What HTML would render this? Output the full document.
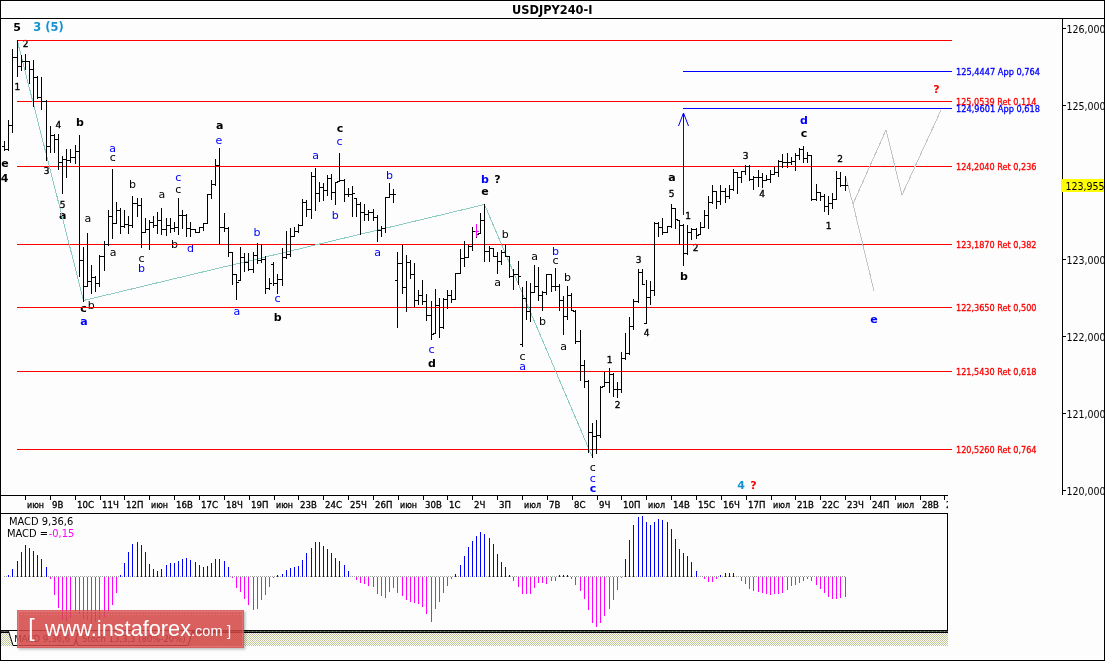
<!DOCTYPE html>
<html><head><meta charset="utf-8"><title>USDJPY240-I</title>
<style>html,body{margin:0;padding:0;background:#FCFDFC;}body{width:1105px;height:661px;overflow:hidden;position:relative;}</style>
</head><body>
<svg width="1105" height="661" viewBox="0 0 1105 661" style="position:absolute;left:0;top:0"><defs><pattern id="hatch" width="6" height="6" patternUnits="userSpaceOnUse"><rect width="6" height="6" fill="#FCFDFC"/><rect x="0" y="0" width="1" height="1" fill="#BFCC98"/><rect x="2" y="0" width="1" height="1" fill="#BFCC98"/><rect x="4" y="0" width="1" height="1" fill="#BFCC98"/><rect x="1" y="1" width="1" height="1" fill="#BFCC98"/><rect x="3" y="1" width="1" height="1" fill="#D4A098"/><rect x="5" y="1" width="1" height="1" fill="#BFCC98"/><rect x="0" y="2" width="1" height="1" fill="#BFCC98"/><rect x="2" y="2" width="1" height="1" fill="#BFCC98"/><rect x="4" y="2" width="1" height="1" fill="#BFCC98"/><rect x="1" y="3" width="1" height="1" fill="#BFCC98"/><rect x="3" y="3" width="1" height="1" fill="#BFCC98"/><rect x="5" y="3" width="1" height="1" fill="#BFCC98"/><rect x="0" y="4" width="1" height="1" fill="#D4A098"/><rect x="2" y="4" width="1" height="1" fill="#BFCC98"/><rect x="4" y="4" width="1" height="1" fill="#BFCC98"/><rect x="1" y="5" width="1" height="1" fill="#BFCC98"/><rect x="3" y="5" width="1" height="1" fill="#BFCC98"/><rect x="5" y="5" width="1" height="1" fill="#BFCC98"/></pattern><pattern id="wdots" width="3" height="1" patternUnits="userSpaceOnUse"><rect width="1" height="1" fill="#FFFFFF" fill-opacity="0.18"/></pattern><pattern id="gdots" width="4" height="1" patternUnits="userSpaceOnUse"><rect width="1" height="1" fill="#5E9A5A"/></pattern><filter id="sh" x="-5%" y="-20%" width="115%" height="150%"><feDropShadow dx="1.5" dy="1.5" stdDeviation="1" flood-color="#000" flood-opacity="0.3"/></filter></defs><rect width="1105" height="661" fill="#FCFDFC"/><text x="17" y="30.5" font-family="'DejaVu Sans',sans-serif" font-size="11" fill="#000" font-weight="bold" text-anchor="middle">5</text><text x="25.5" y="46.7" font-family="'DejaVu Sans',sans-serif" font-size="9" fill="#000" text-anchor="middle" stroke="#000" stroke-width="0.35">2</text><text x="17.3" y="90.2" font-family="'DejaVu Sans',sans-serif" font-size="9" fill="#000" text-anchor="middle" stroke="#000" stroke-width="0.35">1</text><text x="58.3" y="127.7" font-family="'DejaVu Sans',sans-serif" font-size="9" fill="#000" text-anchor="middle" stroke="#000" stroke-width="0.35">4</text><text x="80" y="126" font-family="'DejaVu Sans',sans-serif" font-size="11" fill="#000" font-weight="bold" text-anchor="middle">b</text><text x="112.7" y="151.5" font-family="'DejaVu Sans',sans-serif" font-size="11" fill="#0000FF" text-anchor="middle">a</text><text x="112.7" y="161.2" font-family="'DejaVu Sans',sans-serif" font-size="11" fill="#000" text-anchor="middle">c</text><text x="219.8" y="129.4" font-family="'DejaVu Sans',sans-serif" font-size="11" fill="#000" font-weight="bold" text-anchor="middle">a</text><text x="219" y="144.2" font-family="'DejaVu Sans',sans-serif" font-size="11" fill="#0000FF" text-anchor="middle">e</text><text x="5" y="166.5" font-family="'DejaVu Sans',sans-serif" font-size="11" fill="#000" font-weight="bold" text-anchor="middle">e</text><text x="4.5" y="181.5" font-family="'DejaVu Sans',sans-serif" font-size="11" fill="#000" font-weight="bold" text-anchor="middle">4</text><text x="46.5" y="174.4" font-family="'DejaVu Sans',sans-serif" font-size="9" fill="#000" text-anchor="middle" stroke="#000" stroke-width="0.35">3</text><text x="62.7" y="207.7" font-family="'DejaVu Sans',sans-serif" font-size="9" fill="#000" text-anchor="middle" stroke="#000" stroke-width="0.35">5</text><text x="62.7" y="218.5" font-family="'DejaVu Sans',sans-serif" font-size="11" fill="#000" font-weight="bold" text-anchor="middle">a</text><text x="87.8" y="221.5" font-family="'DejaVu Sans',sans-serif" font-size="11" fill="#000" text-anchor="middle">a</text><text x="83.5" y="311.7" font-family="'DejaVu Sans',sans-serif" font-size="11" fill="#000" font-weight="bold" text-anchor="middle">c</text><text x="91.2" y="309.3" font-family="'DejaVu Sans',sans-serif" font-size="11" fill="#000" text-anchor="middle">b</text><text x="83.9" y="325" font-family="'DejaVu Sans',sans-serif" font-size="11" fill="#0000FF" font-weight="bold" text-anchor="middle">a</text><text x="132.4" y="187.8" font-family="'DejaVu Sans',sans-serif" font-size="11" fill="#000" text-anchor="middle">b</text><text x="161.8" y="197.9" font-family="'DejaVu Sans',sans-serif" font-size="11" fill="#000" text-anchor="middle">a</text><text x="178.3" y="181.1" font-family="'DejaVu Sans',sans-serif" font-size="11" fill="#0000FF" text-anchor="middle">c</text><text x="178.3" y="193.2" font-family="'DejaVu Sans',sans-serif" font-size="11" fill="#000" text-anchor="middle">c</text><text x="174.6" y="247.5" font-family="'DejaVu Sans',sans-serif" font-size="11" fill="#000" text-anchor="middle">b</text><text x="190.6" y="251.7" font-family="'DejaVu Sans',sans-serif" font-size="11" fill="#0000FF" text-anchor="middle">d</text><text x="113" y="256.2" font-family="'DejaVu Sans',sans-serif" font-size="11" fill="#000" text-anchor="middle">a</text><text x="141.5" y="262.2" font-family="'DejaVu Sans',sans-serif" font-size="11" fill="#000" text-anchor="middle">c</text><text x="141.5" y="272.2" font-family="'DejaVu Sans',sans-serif" font-size="11" fill="#0000FF" text-anchor="middle">b</text><text x="236.8" y="314.5" font-family="'DejaVu Sans',sans-serif" font-size="11" fill="#0000FF" text-anchor="middle">a</text><text x="277.5" y="302.2" font-family="'DejaVu Sans',sans-serif" font-size="11" fill="#0000FF" text-anchor="middle">c</text><text x="277.8" y="320.5" font-family="'DejaVu Sans',sans-serif" font-size="11" fill="#000" font-weight="bold" text-anchor="middle">b</text><text x="257" y="236.4" font-family="'DejaVu Sans',sans-serif" font-size="11" fill="#0000FF" text-anchor="middle">b</text><text x="315.7" y="159.2" font-family="'DejaVu Sans',sans-serif" font-size="11" fill="#0000FF" text-anchor="middle">a</text><text x="340" y="131.8" font-family="'DejaVu Sans',sans-serif" font-size="11" fill="#000" font-weight="bold" text-anchor="middle">c</text><text x="339.6" y="145.2" font-family="'DejaVu Sans',sans-serif" font-size="11" fill="#0000FF" text-anchor="middle">c</text><text x="335.3" y="219.1" font-family="'DejaVu Sans',sans-serif" font-size="11" fill="#0000FF" text-anchor="middle">b</text><text x="389.6" y="179.2" font-family="'DejaVu Sans',sans-serif" font-size="11" fill="#0000FF" text-anchor="middle">b</text><text x="377.5" y="255.8" font-family="'DejaVu Sans',sans-serif" font-size="11" fill="#0000FF" text-anchor="middle">a</text><text x="431.5" y="352.7" font-family="'DejaVu Sans',sans-serif" font-size="11" fill="#0000FF" text-anchor="middle">c</text><text x="432" y="366.8" font-family="'DejaVu Sans',sans-serif" font-size="11" fill="#000" font-weight="bold" text-anchor="middle">d</text><text x="485" y="182.7" font-family="'DejaVu Sans',sans-serif" font-size="11" fill="#0000FF" font-weight="bold" text-anchor="middle">b</text><text x="497.5" y="183" font-family="'DejaVu Sans',sans-serif" font-size="11" fill="#000" font-weight="bold" text-anchor="middle">?</text><text x="485" y="194.9" font-family="'DejaVu Sans',sans-serif" font-size="11" fill="#000" font-weight="bold" text-anchor="middle">e</text><text x="505.3" y="238.0" font-family="'DejaVu Sans',sans-serif" font-size="11" fill="#000" text-anchor="middle">b</text><text x="497.5" y="285.6" font-family="'DejaVu Sans',sans-serif" font-size="11" fill="#000" text-anchor="middle">a</text><text x="534.5" y="260.0" font-family="'DejaVu Sans',sans-serif" font-size="11" fill="#000" text-anchor="middle">a</text><text x="555.5" y="254.7" font-family="'DejaVu Sans',sans-serif" font-size="11" fill="#0000FF" text-anchor="middle">b</text><text x="555.5" y="263.5" font-family="'DejaVu Sans',sans-serif" font-size="11" fill="#000" text-anchor="middle">c</text><text x="567.5" y="281.2" font-family="'DejaVu Sans',sans-serif" font-size="11" fill="#000" text-anchor="middle">b</text><text x="638.5" y="262.5" font-family="'DejaVu Sans',sans-serif" font-size="9" fill="#000" text-anchor="middle" stroke="#000" stroke-width="0.35">3</text><text x="522.5" y="359.8" font-family="'DejaVu Sans',sans-serif" font-size="11" fill="#000" text-anchor="middle">c</text><text x="522.5" y="369.7" font-family="'DejaVu Sans',sans-serif" font-size="11" fill="#0000FF" text-anchor="middle">a</text><text x="542.5" y="325.0" font-family="'DejaVu Sans',sans-serif" font-size="11" fill="#000" text-anchor="middle">b</text><text x="563.5" y="350.0" font-family="'DejaVu Sans',sans-serif" font-size="11" fill="#000" text-anchor="middle">a</text><text x="609.5" y="362.7" font-family="'DejaVu Sans',sans-serif" font-size="9" fill="#000" text-anchor="middle" stroke="#000" stroke-width="0.35">1</text><text x="617.5" y="407.7" font-family="'DejaVu Sans',sans-serif" font-size="9" fill="#000" text-anchor="middle" stroke="#000" stroke-width="0.35">2</text><text x="592.7" y="471.2" font-family="'DejaVu Sans',sans-serif" font-size="11" fill="#000" text-anchor="middle">c</text><text x="592.7" y="482.2" font-family="'DejaVu Sans',sans-serif" font-size="11" fill="#0000FF" text-anchor="middle">c</text><text x="593" y="492" font-family="'DejaVu Sans',sans-serif" font-size="11" fill="#0000FF" font-weight="bold" text-anchor="middle">c</text><text x="741" y="489" font-family="'DejaVu Sans',sans-serif" font-size="11" fill="#1592CF" font-weight="bold" text-anchor="middle">4</text><text x="753.5" y="489" font-family="'DejaVu Sans',sans-serif" font-size="11" fill="#FF0000" font-weight="bold" text-anchor="middle">?</text><text x="646.5" y="336.2" font-family="'DejaVu Sans',sans-serif" font-size="9" fill="#000" text-anchor="middle" stroke="#000" stroke-width="0.35">4</text><text x="684" y="279.5" font-family="'DejaVu Sans',sans-serif" font-size="11" fill="#000" font-weight="bold" text-anchor="middle">b</text><text x="695.5" y="250.7" font-family="'DejaVu Sans',sans-serif" font-size="9" fill="#000" text-anchor="middle" stroke="#000" stroke-width="0.35">2</text><text x="688" y="218.7" font-family="'DejaVu Sans',sans-serif" font-size="9" fill="#000" text-anchor="middle" stroke="#000" stroke-width="0.35">1</text><text x="671.5" y="196.5" font-family="'DejaVu Sans',sans-serif" font-size="9" fill="#000" text-anchor="middle" stroke="#000" stroke-width="0.35">5</text><text x="672" y="180.6" font-family="'DejaVu Sans',sans-serif" font-size="11" fill="#000" font-weight="bold" text-anchor="middle">a</text><text x="745.5" y="158.7" font-family="'DejaVu Sans',sans-serif" font-size="9" fill="#000" text-anchor="middle" stroke="#000" stroke-width="0.35">3</text><text x="762" y="196.5" font-family="'DejaVu Sans',sans-serif" font-size="9" fill="#000" text-anchor="middle" stroke="#000" stroke-width="0.35">4</text><text x="804" y="124" font-family="'DejaVu Sans',sans-serif" font-size="11" fill="#0000FF" font-weight="bold" text-anchor="middle">d</text><text x="804" y="137" font-family="'DejaVu Sans',sans-serif" font-size="11" fill="#000" font-weight="bold" text-anchor="middle">c</text><text x="840.2" y="161.7" font-family="'DejaVu Sans',sans-serif" font-size="9" fill="#000" text-anchor="middle" stroke="#000" stroke-width="0.35">2</text><text x="828.5" y="228.7" font-family="'DejaVu Sans',sans-serif" font-size="9" fill="#000" text-anchor="middle" stroke="#000" stroke-width="0.35">1</text><text x="874" y="323" font-family="'DejaVu Sans',sans-serif" font-size="11" fill="#0000FF" font-weight="bold" text-anchor="middle">e</text><text x="936.5" y="93" font-family="'DejaVu Sans',sans-serif" font-size="11" fill="#FF0000" font-weight="bold" text-anchor="middle">?</text><text x="33.3" y="30.7" font-family="'DejaVu Sans',sans-serif" font-size="12" fill="#1592CF" font-weight="bold" textLength="30.5" lengthAdjust="spacingAndGlyphs">3 (5)</text><g shape-rendering="crispEdges" stroke="#000" stroke-width="1" fill="none"><path d="M0 0.5H1105M0.5 0V661M1104.5 0V661M0 660.5H1105"/><path d="M0 18.5H1105"/><path d="M1062.5 18V495"/><path d="M0 495.5H948"/><path d="M0 513.5H948"/><path d="M947.5 513V631"/><path d="M0 630.5H948"/></g><path d="M1063 28.5H1066M1063 105.5H1066M1063 182.5H1066M1063 259.5H1066M1063 336.5H1066M1063 413.5H1066M1063 490.5H1066" stroke="#000" shape-rendering="crispEdges"/><path d="M25.5 496V500M50.5 496V500M75.5 496V500M100.5 496V500M124.5 496V500M149.5 496V500M174.5 496V500M199.5 496V500M224.5 496V500M249.5 496V500M274.5 496V500M298.5 496V500M323.5 496V500M348.5 496V500M373.5 496V500M398.5 496V500M423.5 496V500M447.5 496V500M472.5 496V500M497.5 496V500M522.5 496V500M547.5 496V500M572.5 496V500M597.5 496V500M621.5 496V500M646.5 496V500M671.5 496V500M696.5 496V500M721.5 496V500M746.5 496V500M771.5 496V500M795.5 496V500M820.5 496V500M845.5 496V500M870.5 496V500M895.5 496V500M920.5 496V500M944.5 496V500" stroke="#000" shape-rendering="crispEdges"/><g shape-rendering="crispEdges" stroke-width="1"><path d="M17 40.5H952" stroke="#FF0000"/><path d="M17 101.5H952" stroke="#FF0000"/><path d="M17 166.5H952" stroke="#FF0000"/><path d="M17 244.5H952" stroke="#FF0000"/><path d="M17 307.5H952" stroke="#FF0000"/><path d="M17 371.5H952" stroke="#FF0000"/><path d="M17 449.5H952" stroke="#FF0000"/><path d="M683 71.5H952" stroke="#0000FF"/><path d="M683 108.5H952" stroke="#0000FF"/></g><polyline points="17.5,41.5 83.5,300.5 484.5,204.5 592.5,457.5" fill="none" stroke="#8CCCC4" stroke-width="1" shape-rendering="crispEdges"/><polyline points="845.5,176 853,204 874,291" fill="none" stroke="#C4C4C4" stroke-width="1" shape-rendering="crispEdges"/><polyline points="853,204 886,130 902,195 941,110" fill="none" stroke="#C4C4C4" stroke-width="1" shape-rendering="crispEdges"/><path d="M683.5 215V113.5M678.5 126L683.5 113L688.5 126" fill="none" stroke="#0000FF" stroke-width="1"/><path d="M4.5 141V151M4.5 149.5H7.0M2.0 146.5H4.5M8.5 120V151M8.5 125.5H11.0M6.0 149.5H8.5M12.5 49V133M12.5 57.5H15.5M10.0 125.5H12.5M17.5 40V77M17.5 66.5H20.0M14.5 57.5H17.5M21.5 55V71M21.5 61.5H24.0M19.0 66.5H21.5M25.5 54V70M25.5 61.5H28.0M23.0 61.5H25.5M29.5 61V84M29.5 69.5H32.0M27.0 61.5H29.5M33.5 60V107M33.5 77.5H36.0M31.0 69.5H33.5M37.5 76V99M37.5 97.5H40.0M35.0 77.5H37.5M41.5 77V110M41.5 101.5H44.5M39.0 97.5H41.5M46.5 100V161M46.5 146.5H49.0M43.5 101.5H46.5M50.5 126V153M50.5 135.5H53.0M48.0 146.5H50.5M54.5 134V153M54.5 139.5H57.0M52.0 135.5H54.5M58.5 134V170M58.5 162.5H61.0M56.0 139.5H58.5M62.5 156V194M62.5 159.5H65.0M60.0 162.5H62.5M66.5 149V178M66.5 160.5H69.0M64.0 159.5H66.5M70.5 149V163M70.5 157.5H73.5M68.0 160.5H70.5M75.5 145V164M75.5 151.5H78.0M72.5 157.5H75.5M79.5 135V277M79.5 260.5H82.0M77.0 151.5H79.5M83.5 247V302M83.5 286.5H86.0M81.0 260.5H83.5M87.5 233V287M87.5 281.5H90.0M85.0 286.5H87.5M91.5 265V294M91.5 277.5H94.0M89.0 281.5H91.5M95.5 276V292M95.5 283.5H98.0M93.0 277.5H95.5M99.5 255V287M99.5 256.5H102.5M97.0 283.5H99.5M104.5 241V271M104.5 244.5H107.0M101.5 256.5H104.5M108.5 210V246M108.5 216.5H111.0M106.0 244.5H108.5M112.5 169V239M112.5 223.5H115.0M110.0 216.5H112.5M116.5 202V224M116.5 210.5H119.0M114.0 223.5H116.5M120.5 208V234M120.5 226.5H123.0M118.0 210.5H120.5M124.5 210V228M124.5 224.5H127.0M122.0 226.5H124.5M128.5 216V234M128.5 225.5H131.0M126.0 224.5H128.5M132.5 196V228M132.5 203.5H135.5M130.0 225.5H132.5M137.5 198V217M137.5 205.5H140.0M134.5 203.5H137.5M141.5 198V248M141.5 232.5H144.0M139.0 205.5H141.5M145.5 218V233M145.5 229.5H148.0M143.0 232.5H145.5M149.5 220V250M149.5 222.5H152.0M147.0 229.5H149.5M153.5 216V228M153.5 225.5H156.0M151.0 222.5H153.5M157.5 212V234M157.5 220.5H160.0M155.0 225.5H157.5M161.5 208V235M161.5 229.5H164.5M159.0 220.5H161.5M166.5 218V236M166.5 225.5H169.0M163.5 229.5H166.5M170.5 218V233M170.5 228.5H173.0M168.0 225.5H170.5M174.5 222V232M174.5 227.5H177.0M172.0 228.5H174.5M178.5 198V235M178.5 215.5H181.0M176.0 227.5H178.5M182.5 210V229M182.5 215.5H185.0M180.0 215.5H182.5M186.5 214V237M186.5 228.5H189.0M184.0 215.5H186.5M190.5 222V237M190.5 229.5H193.5M188.0 228.5H190.5M195.5 229V233M195.5 232.5H198.0M192.5 229.5H195.5M199.5 227V233M199.5 227.5H202.0M197.0 232.5H199.5M203.5 223V231M203.5 223.5H206.0M201.0 227.5H203.5M207.5 194V224M207.5 194.5H210.0M205.0 223.5H207.5M211.5 180V199M211.5 184.5H214.0M209.0 194.5H211.5M215.5 159V186M215.5 165.5H218.0M213.0 184.5H215.5M219.5 148V244M219.5 227.5H222.5M217.0 165.5H219.5M224.5 213V232M224.5 228.5H227.0M221.5 227.5H224.5M228.5 227V257M228.5 252.5H231.0M226.0 228.5H228.5M232.5 252V285M232.5 274.5H235.0M230.0 252.5H232.5M236.5 274V300M236.5 282.5H239.0M234.0 274.5H236.5M240.5 247V281M240.5 257.5H243.0M238.0 280.5H240.5M244.5 253V272M244.5 262.5H247.0M242.0 257.5H244.5M248.5 253V271M248.5 269.5H251.5M246.0 262.5H248.5M253.5 252V273M253.5 255.5H256.0M250.5 269.5H253.5M257.5 243V264M257.5 260.5H260.0M255.0 255.5H257.5M261.5 244V263M261.5 259.5H264.0M259.0 260.5H261.5M265.5 256V294M265.5 288.5H268.0M263.0 259.5H265.5M269.5 278V290M269.5 283.5H272.0M267.0 288.5H269.5M273.5 262V286M273.5 283.5H276.0M271.0 264.5H273.5M277.5 274V294M277.5 279.5H280.5M275.0 283.5H277.5M282.5 248V286M282.5 257.5H285.0M279.5 279.5H282.5M286.5 231V259M286.5 254.5H289.0M284.0 257.5H286.5M290.5 228V257M290.5 236.5H293.0M288.0 254.5H290.5M294.5 227V237M294.5 231.5H297.0M292.0 236.5H294.5M298.5 224V233M298.5 225.5H301.0M296.0 231.5H298.5M302.5 199V226M302.5 202.5H305.0M300.0 225.5H302.5M306.5 200V217M306.5 209.5H309.5M304.0 202.5H306.5M311.5 172V219M311.5 176.5H314.0M308.5 209.5H311.5M315.5 168V211M315.5 193.5H318.0M313.0 176.5H315.5M319.5 182V202M319.5 187.5H322.0M317.0 193.5H319.5M323.5 183V201M323.5 190.5H326.0M321.0 187.5H323.5M327.5 175V196M327.5 178.5H330.0M325.0 190.5H327.5M331.5 174V200M331.5 192.5H334.0M329.0 178.5H331.5M335.5 182V205M335.5 182.5H338.0M333.0 192.5H335.5M339.5 153V182M339.5 180.5H342.5M337.0 181.5H339.5M344.5 179V202M344.5 194.5H347.0M341.5 180.5H344.5M348.5 188V197M348.5 194.5H351.0M346.0 194.5H348.5M352.5 186V217M352.5 193.5H355.0M350.0 194.5H352.5M356.5 198V217M356.5 204.5H359.0M354.0 198.5H356.5M360.5 202V235M360.5 212.5H363.0M358.0 204.5H360.5M364.5 204V221M364.5 214.5H367.0M362.0 212.5H364.5M368.5 210V221M368.5 212.5H371.5M366.0 214.5H368.5M373.5 209V221M373.5 217.5H376.0M370.5 212.5H373.5M377.5 215V242M377.5 230.5H380.0M375.0 217.5H377.5M381.5 226V237M381.5 228.5H384.0M379.0 230.5H381.5M385.5 197V233M385.5 197.5H388.0M383.0 228.5H385.5M389.5 183V198M389.5 194.5H392.0M387.0 197.5H389.5M393.5 189V203M393.5 194.5H396.0M391.0 194.5H393.5M397.5 252V328M397.5 263.5H400.5M395.0 280.5H397.5M402.5 245V294M402.5 287.5H405.0M399.5 263.5H402.5M406.5 255V312M406.5 262.5H409.0M404.0 287.5H406.5M410.5 260V279M410.5 274.5H413.0M408.0 262.5H410.5M414.5 263V307M414.5 300.5H417.0M412.0 274.5H414.5M418.5 290V305M418.5 295.5H421.0M416.0 300.5H418.5M422.5 280V305M422.5 301.5H425.0M420.0 295.5H422.5M426.5 294V321M426.5 315.5H429.5M424.0 301.5H426.5M431.5 301V340M431.5 334.5H434.0M428.5 315.5H431.5M435.5 289V334M435.5 305.5H438.0M433.0 333.5H435.5M439.5 298V338M439.5 327.5H442.0M437.0 305.5H439.5M443.5 298V329M443.5 299.5H446.0M441.0 327.5H443.5M447.5 290V309M447.5 295.5H450.0M445.0 299.5H447.5M451.5 290V303M451.5 299.5H454.0M449.0 295.5H451.5M455.5 273V300M455.5 273.5H458.5M453.0 299.5H455.5M460.5 249V274M460.5 258.5H463.0M457.5 273.5H460.5M464.5 241V267M464.5 257.5H467.0M462.0 258.5H464.5M468.5 245V258M468.5 246.5H471.0M466.0 257.5H468.5M472.5 227V251M472.5 231.5H475.0M470.0 246.5H472.5M476.5 224V238M476.5 234.5H479.0M474.0 231.5H476.5M480.5 213V234M480.5 220.5H483.0M478.0 233.5H480.5M484.5 204V262M484.5 251.5H487.5M482.0 220.5H484.5M489.5 246V262M489.5 248.5H492.0M486.5 251.5H489.5M493.5 248V257M493.5 256.5H496.0M491.0 248.5H493.5M497.5 252V274M497.5 261.5H500.0M495.0 256.5H497.5M501.5 250V265M501.5 252.5H504.0M499.0 261.5H501.5M505.5 245V257M505.5 256.5H508.0M503.0 252.5H505.5M509.5 256V278M509.5 276.5H512.0M507.0 256.5H509.5M513.5 269V290M513.5 274.5H516.5M511.0 276.5H513.5M518.5 261V285M518.5 276.5H521.0M515.5 274.5H518.5M522.5 287V347M522.5 298.5H525.0M520.0 344.5H522.5M526.5 281V320M526.5 311.5H529.0M524.0 298.5H526.5M530.5 283V322M530.5 292.5H533.0M528.0 311.5H530.5M534.5 265V293M534.5 286.5H537.0M532.0 292.5H534.5M538.5 267V301M538.5 295.5H541.0M536.0 286.5H538.5M542.5 291V311M542.5 292.5H545.0M540.0 295.5H542.5M546.5 274V295M546.5 274.5H549.5M544.0 292.5H546.5M551.5 274V292M551.5 286.5H554.0M548.5 274.5H551.5M555.5 268V291M555.5 286.5H558.0M553.0 286.5H555.5M559.5 284V311M559.5 300.5H562.0M557.0 286.5H559.5M563.5 296V335M563.5 316.5H566.0M561.0 300.5H563.5M567.5 286V320M567.5 295.5H570.0M565.0 316.5H567.5M571.5 293V311M571.5 310.5H574.0M569.0 295.5H571.5M575.5 310V344M575.5 341.5H578.5M573.0 311.5H575.5M580.5 330V381M580.5 365.5H583.0M577.5 341.5H580.5M584.5 360V388M584.5 381.5H587.0M582.0 365.5H584.5M588.5 380V453M588.5 432.5H591.0M586.0 381.5H588.5M592.5 423V458M592.5 436.5H595.0M590.0 432.5H592.5M596.5 420V454M596.5 435.5H599.0M594.0 436.5H596.5M600.5 386V438M600.5 387.5H603.0M598.0 435.5H600.5M604.5 372V387M604.5 382.5H607.5M602.0 386.5H604.5M609.5 368V393M609.5 374.5H612.0M606.5 382.5H609.5M613.5 373V397M613.5 389.5H616.0M611.0 374.5H613.5M617.5 382V398M617.5 389.5H620.0M615.0 389.5H617.5M621.5 352V393M621.5 358.5H624.0M619.0 389.5H621.5M625.5 333V360M625.5 353.5H628.0M623.0 358.5H625.5M629.5 317V355M629.5 326.5H632.0M627.0 353.5H629.5M633.5 299V330M633.5 301.5H636.5M631.0 326.5H633.5M638.5 269V303M638.5 272.5H641.0M635.5 301.5H638.5M642.5 269V285M642.5 284.5H645.0M640.0 272.5H642.5M646.5 280V324M646.5 297.5H649.0M644.0 323.5H646.5M650.5 281V305M650.5 290.5H653.0M648.0 297.5H650.5M654.5 222V296M654.5 223.5H657.0M652.0 290.5H654.5M658.5 222V237M658.5 227.5H661.0M656.0 223.5H658.5M662.5 218V235M662.5 232.5H665.5M660.0 227.5H662.5M667.5 226V233M667.5 226.5H670.0M664.5 232.5H667.5M671.5 204V228M671.5 208.5H674.0M669.0 226.5H671.5M675.5 208V229M675.5 219.5H678.0M673.0 208.5H675.5M679.5 220V245M679.5 225.5H682.0M677.0 220.5H679.5M683.5 224V266M683.5 253.5H686.0M681.0 225.5H683.5M687.5 225V255M687.5 232.5H690.0M685.0 253.5H687.5M691.5 228V240M691.5 229.5H694.5M689.0 232.5H691.5M696.5 228V239M696.5 235.5H699.0M693.5 229.5H696.5M700.5 222V235M700.5 227.5H703.0M698.0 234.5H700.5M704.5 210V228M704.5 215.5H707.0M702.0 227.5H704.5M708.5 196V229M708.5 202.5H711.0M706.0 215.5H708.5M712.5 185V204M712.5 191.5H715.0M710.0 202.5H712.5M716.5 191V209M716.5 201.5H719.0M714.0 191.5H716.5M720.5 185V205M720.5 191.5H723.5M718.0 201.5H720.5M725.5 188V203M725.5 196.5H728.0M722.5 191.5H725.5M729.5 185V199M729.5 189.5H732.0M727.0 196.5H729.5M733.5 169V191M733.5 172.5H736.0M731.0 189.5H733.5M737.5 172V194M737.5 177.5H740.0M735.0 172.5H737.5M741.5 171V183M741.5 171.5H744.0M739.0 177.5H741.5M745.5 165V175M745.5 166.5H748.0M743.0 171.5H745.5M749.5 165V181M749.5 179.5H752.0M747.0 166.5H749.5M753.5 176V190M753.5 177.5H756.5M751.0 179.5H753.5M758.5 170V187M758.5 177.5H761.0M755.5 177.5H758.5M762.5 173V188M762.5 180.5H765.0M760.0 177.5H762.5M766.5 175V181M766.5 179.5H769.0M764.0 180.5H766.5M770.5 170V183M770.5 174.5H773.0M768.0 179.5H770.5M774.5 167V175M774.5 172.5H777.0M772.0 174.5H774.5M778.5 160V177M778.5 161.5H781.0M776.0 172.5H778.5M782.5 154V168M782.5 162.5H785.5M780.0 161.5H782.5M787.5 153V168M787.5 162.5H790.0M784.5 162.5H787.5M791.5 157V165M791.5 161.5H794.0M789.0 162.5H791.5M795.5 153V171M795.5 155.5H798.0M793.0 161.5H795.5M799.5 148V160M799.5 149.5H802.0M797.0 155.5H799.5M803.5 146V163M803.5 158.5H806.0M801.0 149.5H803.5M807.5 152V163M807.5 155.5H810.0M805.0 158.5H807.5M811.5 155V201M811.5 199.5H814.5M809.0 155.5H811.5M816.5 184V201M816.5 192.5H819.0M813.5 199.5H816.5M820.5 192V201M820.5 196.5H823.0M818.0 192.5H820.5M824.5 194V212M824.5 206.5H827.0M822.0 196.5H824.5M828.5 196V215M828.5 203.5H831.0M826.0 206.5H828.5M832.5 193V209M832.5 199.5H835.0M830.0 203.5H832.5M836.5 171V200M836.5 178.5H839.0M834.0 199.5H836.5M840.5 172V187M840.5 185.5H843.5M838.0 178.5H840.5M845.5 176V191M845.5 185.5H848.0M842.5 185.5H845.5" stroke="#000" stroke-width="1" fill="none" shape-rendering="crispEdges"/><path d="M476.5 224V237M474.5 231.5H479.0" stroke="#FF00FF" stroke-width="1" shape-rendering="crispEdges"/><path d="M4 576.5H846" stroke="#A0A0A0" stroke-dasharray="1,1" shape-rendering="crispEdges"/><path d="M8.5 575V577M12.5 569V577M17.5 561V577M21.5 552V577M25.5 545V577M29.5 548V577M33.5 551V577M37.5 555V577M41.5 559V577M46.5 567V577M120.5 575V577M124.5 563V577M128.5 552V577M132.5 544V577M137.5 542V577M141.5 545V577M145.5 552V577M149.5 564V577M153.5 569V577M157.5 571V577M161.5 569V577M166.5 565V577M170.5 563V577M174.5 563V577M178.5 561V577M182.5 559V577M186.5 558V577M190.5 560V577M195.5 562V577M199.5 565V577M203.5 567V577M207.5 566V577M211.5 563V577M215.5 559V577M219.5 559V577M224.5 561V577M228.5 567V577M277.5 575V577M282.5 574V577M286.5 570V577M290.5 568V577M294.5 567V577M298.5 566V577M302.5 560V577M306.5 553V577M311.5 548V577M315.5 542V577M319.5 542V577M323.5 546V577M327.5 549V577M331.5 553V577M335.5 558V577M339.5 561V577M344.5 565V577M348.5 571V577M455.5 574V577M460.5 565V577M464.5 556V577M468.5 547V577M472.5 541V577M476.5 536V577M480.5 532V577M484.5 534V577M489.5 538V577M493.5 544V577M497.5 554V577M501.5 562V577M505.5 567V577M509.5 575V577M559.5 575V577M563.5 575V577M567.5 575V577M625.5 559V577M629.5 540V577M633.5 525V577M638.5 517V577M642.5 516V577M646.5 522V577M650.5 525V577M654.5 522V577M658.5 519V577M662.5 520V577M667.5 522V577M671.5 529V577M675.5 539V577M679.5 549V577M683.5 553V577M687.5 556V577M691.5 562V577M696.5 571V577M720.5 575V577M725.5 573V577M729.5 573V577M733.5 573V577" stroke="#0000FF" stroke-width="1" shape-rendering="crispEdges"/><path d="M50.5 577V579M54.5 577V595M58.5 577V608M62.5 577V620M66.5 577V621M70.5 577V618M75.5 577V612M79.5 577V614M83.5 577V619M87.5 577V620M91.5 577V625M95.5 577V622M99.5 577V619M104.5 577V617M108.5 577V612M112.5 577V605M116.5 577V593M232.5 577V578M236.5 577V588M240.5 577V592M244.5 577V599M248.5 577V605M253.5 577V610M257.5 577V609M261.5 577V600M265.5 577V595M269.5 577V587M273.5 577V578M356.5 577V580M360.5 577V583M364.5 577V584M368.5 577V586M373.5 577V587M377.5 577V594M381.5 577V596M385.5 577V598M389.5 577V592M393.5 577V588M397.5 577V593M402.5 577V596M406.5 577V600M410.5 577V602M414.5 577V603M418.5 577V604M422.5 577V607M426.5 577V614M431.5 577V622M435.5 577V609M439.5 577V602M443.5 577V593M447.5 577V586M451.5 577V579M513.5 577V581M518.5 577V587M522.5 577V594M526.5 577V594M530.5 577V594M534.5 577V588M538.5 577V583M542.5 577V583M546.5 577V584M551.5 577V581M555.5 577V581M571.5 577V579M575.5 577V585M580.5 577V591M584.5 577V599M588.5 577V610M592.5 577V623M596.5 577V627M600.5 577V623M604.5 577V616M609.5 577V609M613.5 577V600M617.5 577V590M621.5 577V578M704.5 577V579M708.5 577V582M712.5 577V582M716.5 577V579M741.5 577V581M745.5 577V584M749.5 577V589M753.5 577V591M758.5 577V592M762.5 577V593M766.5 577V594M770.5 577V595M774.5 577V594M778.5 577V594M782.5 577V593M787.5 577V590M791.5 577V586M795.5 577V585M799.5 577V583M803.5 577V581M807.5 577V579M811.5 577V581M816.5 577V585M820.5 577V589M824.5 577V593M828.5 577V597M832.5 577V599M836.5 577V599M840.5 577V598M845.5 577V597" stroke="#FF00FF" stroke-width="1" shape-rendering="crispEdges"/><text x="512" y="13.9" font-family="'DejaVu Sans',sans-serif" font-size="12" fill="#000" font-weight="bold" textLength="80.5" lengthAdjust="spacingAndGlyphs">USDJPY240-I</text><text x="1066.5" y="32.5" font-family="'DejaVu Sans Condensed','DejaVu Sans',sans-serif" font-size="10.5" fill="#000">126,000</text><text x="1066.5" y="109.5" font-family="'DejaVu Sans Condensed','DejaVu Sans',sans-serif" font-size="10.5" fill="#000">125,000</text><text x="1066.5" y="263.5" font-family="'DejaVu Sans Condensed','DejaVu Sans',sans-serif" font-size="10.5" fill="#000">123,000</text><text x="1066.5" y="340.5" font-family="'DejaVu Sans Condensed','DejaVu Sans',sans-serif" font-size="10.5" fill="#000">122,000</text><text x="1066.5" y="417.5" font-family="'DejaVu Sans Condensed','DejaVu Sans',sans-serif" font-size="10.5" fill="#000">121,000</text><text x="1066.5" y="494.5" font-family="'DejaVu Sans Condensed','DejaVu Sans',sans-serif" font-size="10.5" fill="#000">120,000</text><rect x="1061" y="179" width="43" height="13" fill="#FFFF00"/><text x="1065.5" y="189.5" font-family="'DejaVu Sans Condensed','DejaVu Sans',sans-serif" font-size="10.5" fill="#000">123,955</text><text x="956" y="75" font-family="'DejaVu Sans',sans-serif" font-size="9.2" fill="#0000FF" textLength="84" lengthAdjust="spacingAndGlyphs" stroke="#0000FF" stroke-width="0.3">125,4447 App 0,764</text><text x="956" y="105" font-family="'DejaVu Sans',sans-serif" font-size="9.2" fill="#FF0000" textLength="80.5" lengthAdjust="spacingAndGlyphs" stroke="#FF0000" stroke-width="0.3">125,0539 Ret 0,114</text><text x="956" y="112" font-family="'DejaVu Sans',sans-serif" font-size="9.2" fill="#0000FF" textLength="84" lengthAdjust="spacingAndGlyphs" stroke="#0000FF" stroke-width="0.3">124,9601 App 0,618</text><text x="956" y="170" font-family="'DejaVu Sans',sans-serif" font-size="9.2" fill="#FF0000" textLength="80.5" lengthAdjust="spacingAndGlyphs" stroke="#FF0000" stroke-width="0.3">124,2040 Ret 0,236</text><text x="956" y="248" font-family="'DejaVu Sans',sans-serif" font-size="9.2" fill="#FF0000" textLength="80.5" lengthAdjust="spacingAndGlyphs" stroke="#FF0000" stroke-width="0.3">123,1870 Ret 0,382</text><text x="956" y="311" font-family="'DejaVu Sans',sans-serif" font-size="9.2" fill="#FF0000" textLength="80.5" lengthAdjust="spacingAndGlyphs" stroke="#FF0000" stroke-width="0.3">122,3650 Ret 0,500</text><text x="956" y="375" font-family="'DejaVu Sans',sans-serif" font-size="9.2" fill="#FF0000" textLength="80.5" lengthAdjust="spacingAndGlyphs" stroke="#FF0000" stroke-width="0.3">121,5430 Ret 0,618</text><text x="956" y="453" font-family="'DejaVu Sans',sans-serif" font-size="9.2" fill="#FF0000" textLength="80.5" lengthAdjust="spacingAndGlyphs" stroke="#FF0000" stroke-width="0.3">120,5260 Ret 0,764</text><svg x="0" y="496" width="948" height="17" overflow="hidden"><text x="27" y="11.8" font-family="'DejaVu Sans',sans-serif" font-size="8.6" fill="#000" textLength="17" lengthAdjust="spacingAndGlyphs" stroke="#000" stroke-width="0.3">июн</text><text x="52" y="11.8" font-family="'DejaVu Sans',sans-serif" font-size="8.6" fill="#000" stroke="#000" stroke-width="0.3">9В</text><text x="77" y="11.8" font-family="'DejaVu Sans',sans-serif" font-size="8.6" fill="#000" stroke="#000" stroke-width="0.3">10С</text><text x="102" y="11.8" font-family="'DejaVu Sans',sans-serif" font-size="8.6" fill="#000" stroke="#000" stroke-width="0.3">11Ч</text><text x="126" y="11.8" font-family="'DejaVu Sans',sans-serif" font-size="8.6" fill="#000" stroke="#000" stroke-width="0.3">12П</text><text x="151" y="11.8" font-family="'DejaVu Sans',sans-serif" font-size="8.6" fill="#000" textLength="17" lengthAdjust="spacingAndGlyphs" stroke="#000" stroke-width="0.3">июн</text><text x="176" y="11.8" font-family="'DejaVu Sans',sans-serif" font-size="8.6" fill="#000" stroke="#000" stroke-width="0.3">16В</text><text x="201" y="11.8" font-family="'DejaVu Sans',sans-serif" font-size="8.6" fill="#000" stroke="#000" stroke-width="0.3">17С</text><text x="226" y="11.8" font-family="'DejaVu Sans',sans-serif" font-size="8.6" fill="#000" stroke="#000" stroke-width="0.3">18Ч</text><text x="251" y="11.8" font-family="'DejaVu Sans',sans-serif" font-size="8.6" fill="#000" stroke="#000" stroke-width="0.3">19П</text><text x="276" y="11.8" font-family="'DejaVu Sans',sans-serif" font-size="8.6" fill="#000" textLength="17" lengthAdjust="spacingAndGlyphs" stroke="#000" stroke-width="0.3">июн</text><text x="300" y="11.8" font-family="'DejaVu Sans',sans-serif" font-size="8.6" fill="#000" stroke="#000" stroke-width="0.3">23В</text><text x="325" y="11.8" font-family="'DejaVu Sans',sans-serif" font-size="8.6" fill="#000" stroke="#000" stroke-width="0.3">24С</text><text x="350" y="11.8" font-family="'DejaVu Sans',sans-serif" font-size="8.6" fill="#000" stroke="#000" stroke-width="0.3">25Ч</text><text x="375" y="11.8" font-family="'DejaVu Sans',sans-serif" font-size="8.6" fill="#000" stroke="#000" stroke-width="0.3">26П</text><text x="400" y="11.8" font-family="'DejaVu Sans',sans-serif" font-size="8.6" fill="#000" textLength="17" lengthAdjust="spacingAndGlyphs" stroke="#000" stroke-width="0.3">июн</text><text x="425" y="11.8" font-family="'DejaVu Sans',sans-serif" font-size="8.6" fill="#000" stroke="#000" stroke-width="0.3">30В</text><text x="449" y="11.8" font-family="'DejaVu Sans',sans-serif" font-size="8.6" fill="#000" stroke="#000" stroke-width="0.3">1С</text><text x="474" y="11.8" font-family="'DejaVu Sans',sans-serif" font-size="8.6" fill="#000" stroke="#000" stroke-width="0.3">2Ч</text><text x="499" y="11.8" font-family="'DejaVu Sans',sans-serif" font-size="8.6" fill="#000" stroke="#000" stroke-width="0.3">3П</text><text x="524" y="11.8" font-family="'DejaVu Sans',sans-serif" font-size="8.6" fill="#000" textLength="17" lengthAdjust="spacingAndGlyphs" stroke="#000" stroke-width="0.3">июл</text><text x="549" y="11.8" font-family="'DejaVu Sans',sans-serif" font-size="8.6" fill="#000" stroke="#000" stroke-width="0.3">7В</text><text x="574" y="11.8" font-family="'DejaVu Sans',sans-serif" font-size="8.6" fill="#000" stroke="#000" stroke-width="0.3">8С</text><text x="599" y="11.8" font-family="'DejaVu Sans',sans-serif" font-size="8.6" fill="#000" stroke="#000" stroke-width="0.3">9Ч</text><text x="623" y="11.8" font-family="'DejaVu Sans',sans-serif" font-size="8.6" fill="#000" stroke="#000" stroke-width="0.3">10П</text><text x="648" y="11.8" font-family="'DejaVu Sans',sans-serif" font-size="8.6" fill="#000" textLength="17" lengthAdjust="spacingAndGlyphs" stroke="#000" stroke-width="0.3">июл</text><text x="673" y="11.8" font-family="'DejaVu Sans',sans-serif" font-size="8.6" fill="#000" stroke="#000" stroke-width="0.3">14В</text><text x="698" y="11.8" font-family="'DejaVu Sans',sans-serif" font-size="8.6" fill="#000" stroke="#000" stroke-width="0.3">15С</text><text x="723" y="11.8" font-family="'DejaVu Sans',sans-serif" font-size="8.6" fill="#000" stroke="#000" stroke-width="0.3">16Ч</text><text x="748" y="11.8" font-family="'DejaVu Sans',sans-serif" font-size="8.6" fill="#000" stroke="#000" stroke-width="0.3">17П</text><text x="773" y="11.8" font-family="'DejaVu Sans',sans-serif" font-size="8.6" fill="#000" textLength="17" lengthAdjust="spacingAndGlyphs" stroke="#000" stroke-width="0.3">июл</text><text x="797" y="11.8" font-family="'DejaVu Sans',sans-serif" font-size="8.6" fill="#000" stroke="#000" stroke-width="0.3">21В</text><text x="822" y="11.8" font-family="'DejaVu Sans',sans-serif" font-size="8.6" fill="#000" stroke="#000" stroke-width="0.3">22С</text><text x="847" y="11.8" font-family="'DejaVu Sans',sans-serif" font-size="8.6" fill="#000" stroke="#000" stroke-width="0.3">23Ч</text><text x="872" y="11.8" font-family="'DejaVu Sans',sans-serif" font-size="8.6" fill="#000" stroke="#000" stroke-width="0.3">24П</text><text x="897" y="11.8" font-family="'DejaVu Sans',sans-serif" font-size="8.6" fill="#000" textLength="17" lengthAdjust="spacingAndGlyphs" stroke="#000" stroke-width="0.3">июл</text><text x="922" y="11.8" font-family="'DejaVu Sans',sans-serif" font-size="8.6" fill="#000" stroke="#000" stroke-width="0.3">28В</text><text x="946" y="11.8" font-family="'DejaVu Sans',sans-serif" font-size="8.6" fill="#000" stroke="#000" stroke-width="0.3">29С</text></svg><text x="9" y="524.5" font-family="'DejaVu Sans Condensed','DejaVu Sans',sans-serif" font-size="11" fill="#000">MACD 9,36,6</text><text x="7" y="536.5" font-family="'DejaVu Sans Condensed','DejaVu Sans',sans-serif" font-size="11" fill="#000">MACD =</text><text x="48.7" y="536.5" font-family="'DejaVu Sans Condensed','DejaVu Sans',sans-serif" font-size="11" fill="#FF00FF" textLength="25.5" lengthAdjust="spacingAndGlyphs">-0,15</text><rect x="1" y="631" width="947" height="1" fill="#5A4858"/><rect x="1" y="631" width="947" height="1" fill="url(#gdots)"/><rect x="1" y="632" width="947" height="1" fill="#000"/><rect x="1" y="633" width="947" height="13" fill="url(#hatch)"/><path d="M73 631L78 645.5H188L192.5 631" fill="#FCFDFC" stroke="#000" stroke-width="1"/><path d="M8.5 631L13 645.5H74L78.5 631" fill="#FCFDFC" stroke="#000" stroke-width="1"/><rect x="9.5" y="631" width="68.5" height="1" fill="#FCFDFC"/><text x="14.3" y="641.5" font-family="'DejaVu Sans Condensed','DejaVu Sans',sans-serif" font-size="9.5" fill="#000" textLength="56" lengthAdjust="spacingAndGlyphs">MACD 9,36,6</text><text x="82" y="641.5" font-family="'DejaVu Sans Condensed','DejaVu Sans',sans-serif" font-size="9.5" fill="#000" textLength="103.5" lengthAdjust="spacingAndGlyphs">Stoch 13,3,3 (80%-20%)</text><g filter="url(#sh)"><rect x="17" y="610" width="227" height="38" fill="#D94A4A" fill-opacity="0.82"/></g><rect x="18.5" y="611.5" width="224" height="35" fill="none" stroke="#FFFFFF" stroke-opacity="0.12" shape-rendering="crispEdges"/><rect x="20" y="614" width="222" height="1" fill="url(#wdots)"/><text x="28.2" y="636" font-family="'Liberation Sans',sans-serif" font-size="23" fill="#FFFFFF">[</text><text x="45" y="635.5" font-family="'Liberation Sans',sans-serif" font-size="22" fill="#FFFFFF" textLength="146" lengthAdjust="spacingAndGlyphs">www.instaforex</text><text x="191" y="635.5" font-family="'Liberation Sans',sans-serif" font-size="14.5" fill="#FFFFFF" textLength="31.5" lengthAdjust="spacingAndGlyphs">.com</text><text x="227" y="636" font-family="'Liberation Sans',sans-serif" font-size="15" fill="#FFFFFF">]</text></svg>
</body></html>
